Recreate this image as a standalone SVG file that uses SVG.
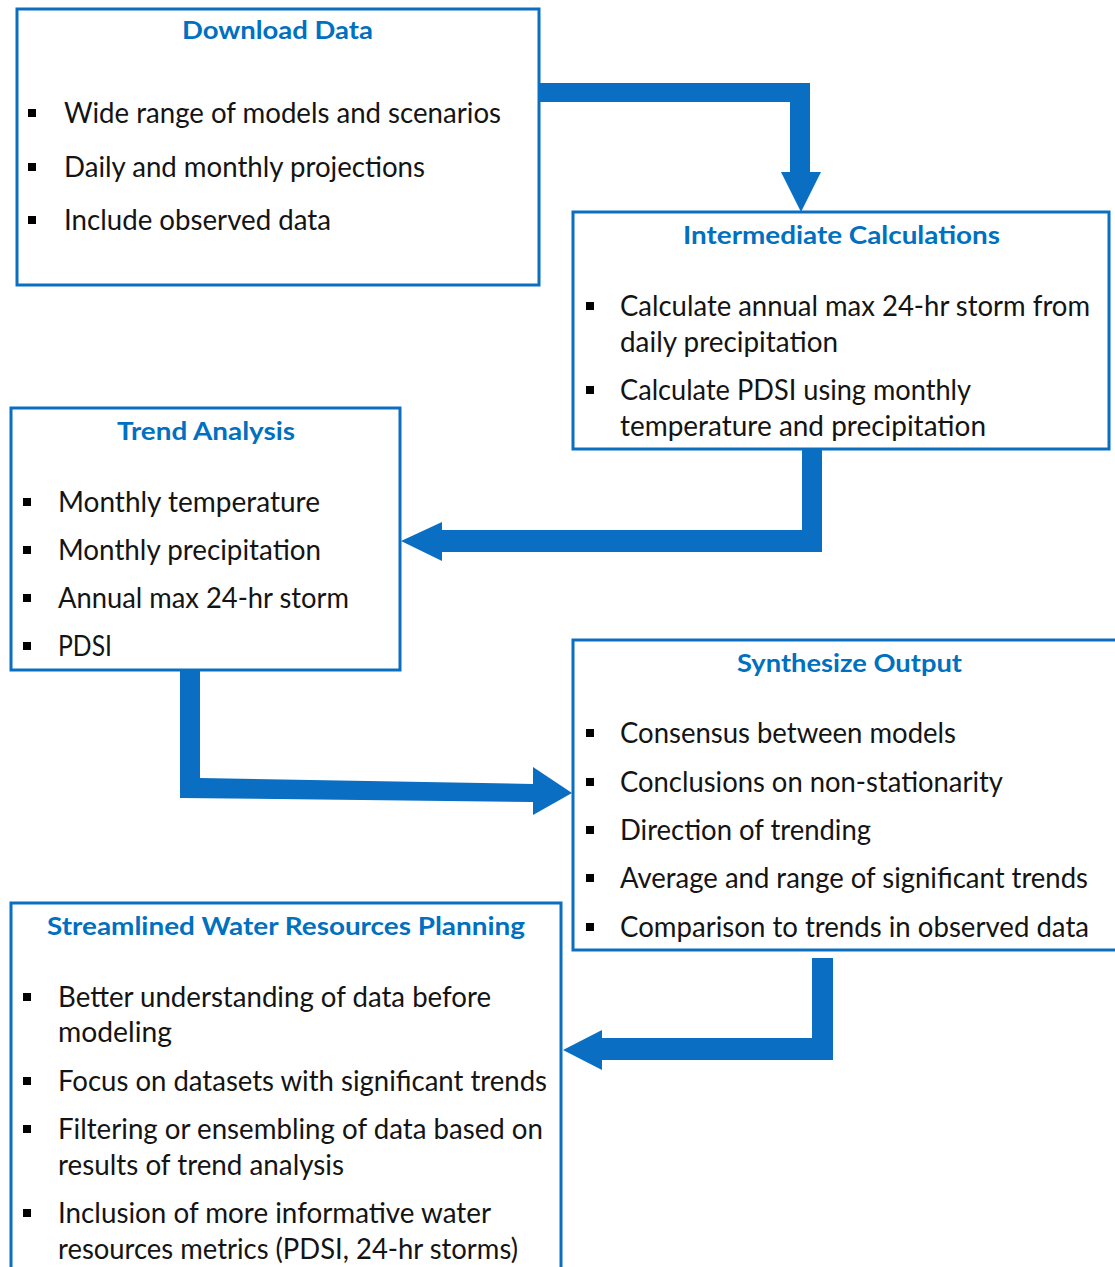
<svg xmlns="http://www.w3.org/2000/svg" width="1115" height="1267" viewBox="0 0 1115 1267">
<style>
.box{fill:#ffffff;stroke:#0A6FC0;stroke-width:3}
.title{font-family:Lato,"Open Sans","Liberation Sans",sans-serif;font-weight:bold;font-size:25px;fill:#0070C0}
.body{font-family:Lato,"Open Sans","Liberation Sans",sans-serif;font-size:28px;fill:#141414}
.bul{fill:#000000}
.arrow{fill:#0A6FC2}
</style>
<rect x="0" y="0" width="1115" height="1267" fill="#ffffff"/>
<g id="connectors">
<polygon class="arrow" points="540,83 810,83 810,172 821,172 801,212 781,172 790,172 790,102 540,102"/>
<polygon class="arrow" points="802,449 822,449 822,552 442,552 442,561 401,541 442,522 442,530 802,530"/>
<polygon class="arrow" points="180,670 200,670 200,778 533,784 533,767 572,793 533,815 533,802 180,798"/>
<polygon class="arrow" points="812,958 833,958 833,1060 602,1060 602,1070 563,1050 602,1030 602,1038 812,1038"/>
</g>
<g id="node-download">
<rect class="box" x="17" y="9" width="522" height="276"/>
<text class="title" x="182" y="39" textLength="191" lengthAdjust="spacingAndGlyphs">Download Data</text>
<rect class="bul" x="28" y="109" width="8" height="8"/>
<text class="body" x="64" y="123" textLength="437" lengthAdjust="spacingAndGlyphs">Wide range of models and scenarios</text>
<rect class="bul" x="28" y="163" width="8" height="8"/>
<text class="body" x="64" y="177" textLength="361" lengthAdjust="spacingAndGlyphs">Daily and monthly projections</text>
<rect class="bul" x="28" y="216" width="8" height="8"/>
<text class="body" x="64" y="230" textLength="267" lengthAdjust="spacingAndGlyphs">Include observed data</text>
</g>
<g id="node-intermediate">
<rect class="box" x="573" y="212" width="536" height="237"/>
<text class="title" x="683" y="244" textLength="317" lengthAdjust="spacingAndGlyphs">Intermediate Calculations</text>
<rect class="bul" x="586" y="302" width="8" height="8"/>
<text class="body" x="620" y="316" textLength="470" lengthAdjust="spacingAndGlyphs">Calculate annual max 24-hr storm from</text>
<text class="body" x="620" y="352" textLength="218" lengthAdjust="spacingAndGlyphs">daily precipitation</text>
<rect class="bul" x="586" y="386" width="8" height="8"/>
<text class="body" x="620" y="400" textLength="351" lengthAdjust="spacingAndGlyphs">Calculate PDSI using monthly</text>
<text class="body" x="620" y="436" textLength="366" lengthAdjust="spacingAndGlyphs">temperature and precipitation</text>
</g>
<g id="node-trend">
<rect class="box" x="11" y="408" width="389" height="262"/>
<text class="title" x="117" y="440" textLength="178" lengthAdjust="spacingAndGlyphs">Trend Analysis</text>
<rect class="bul" x="23" y="498" width="8" height="8"/>
<text class="body" x="58" y="512" textLength="262" lengthAdjust="spacingAndGlyphs">Monthly temperature</text>
<rect class="bul" x="23" y="546" width="8" height="8"/>
<text class="body" x="58" y="560" textLength="263" lengthAdjust="spacingAndGlyphs">Monthly precipitation</text>
<rect class="bul" x="23" y="594" width="8" height="8"/>
<text class="body" x="58" y="608" textLength="291" lengthAdjust="spacingAndGlyphs">Annual max 24-hr storm</text>
<rect class="bul" x="23" y="642" width="8" height="8"/>
<text class="body" x="58" y="656" textLength="54" lengthAdjust="spacingAndGlyphs">PDSI</text>
</g>
<g id="node-synthesize">
<rect class="box" x="573" y="640" width="548" height="310"/>
<text class="title" x="737" y="672" textLength="225" lengthAdjust="spacingAndGlyphs">Synthesize Output</text>
<rect class="bul" x="586" y="729" width="8" height="8"/>
<text class="body" x="620" y="743" textLength="336" lengthAdjust="spacingAndGlyphs">Consensus between models</text>
<rect class="bul" x="586" y="778" width="8" height="8"/>
<text class="body" x="620" y="792" textLength="383" lengthAdjust="spacingAndGlyphs">Conclusions on non-stationarity</text>
<rect class="bul" x="586" y="826" width="8" height="8"/>
<text class="body" x="620" y="840" textLength="251" lengthAdjust="spacingAndGlyphs">Direction of trending</text>
<rect class="bul" x="586" y="874" width="8" height="8"/>
<text class="body" x="620" y="888" textLength="468" lengthAdjust="spacingAndGlyphs">Average and range of significant trends</text>
<rect class="bul" x="586" y="923" width="8" height="8"/>
<text class="body" x="620" y="937" textLength="469" lengthAdjust="spacingAndGlyphs">Comparison to trends in observed data</text>
</g>
<g id="node-streamlined">
<rect class="box" x="11" y="903" width="550" height="400"/>
<text class="title" x="47" y="935" textLength="478" lengthAdjust="spacingAndGlyphs">Streamlined Water Resources Planning</text>
<rect class="bul" x="23" y="993" width="8" height="8"/>
<text class="body" x="58" y="1007" textLength="433" lengthAdjust="spacingAndGlyphs">Better understanding of data before</text>
<text class="body" x="58" y="1042" textLength="114" lengthAdjust="spacingAndGlyphs">modeling</text>
<rect class="bul" x="23" y="1077" width="8" height="8"/>
<text class="body" x="58" y="1091" textLength="489" lengthAdjust="spacingAndGlyphs">Focus on datasets with significant trends</text>
<rect class="bul" x="23" y="1125" width="8" height="8"/>
<text class="body" x="58" y="1139" textLength="485" lengthAdjust="spacingAndGlyphs">Filtering or ensembling of data based on</text>
<text class="body" x="58" y="1175" textLength="286" lengthAdjust="spacingAndGlyphs">results of trend analysis</text>
<rect class="bul" x="23" y="1209" width="8" height="8"/>
<text class="body" x="58" y="1223" textLength="433" lengthAdjust="spacingAndGlyphs">Inclusion of more informative water</text>
<text class="body" x="58" y="1259" textLength="460" lengthAdjust="spacingAndGlyphs">resources metrics (PDSI, 24-hr storms)</text>
</g>
</svg>
